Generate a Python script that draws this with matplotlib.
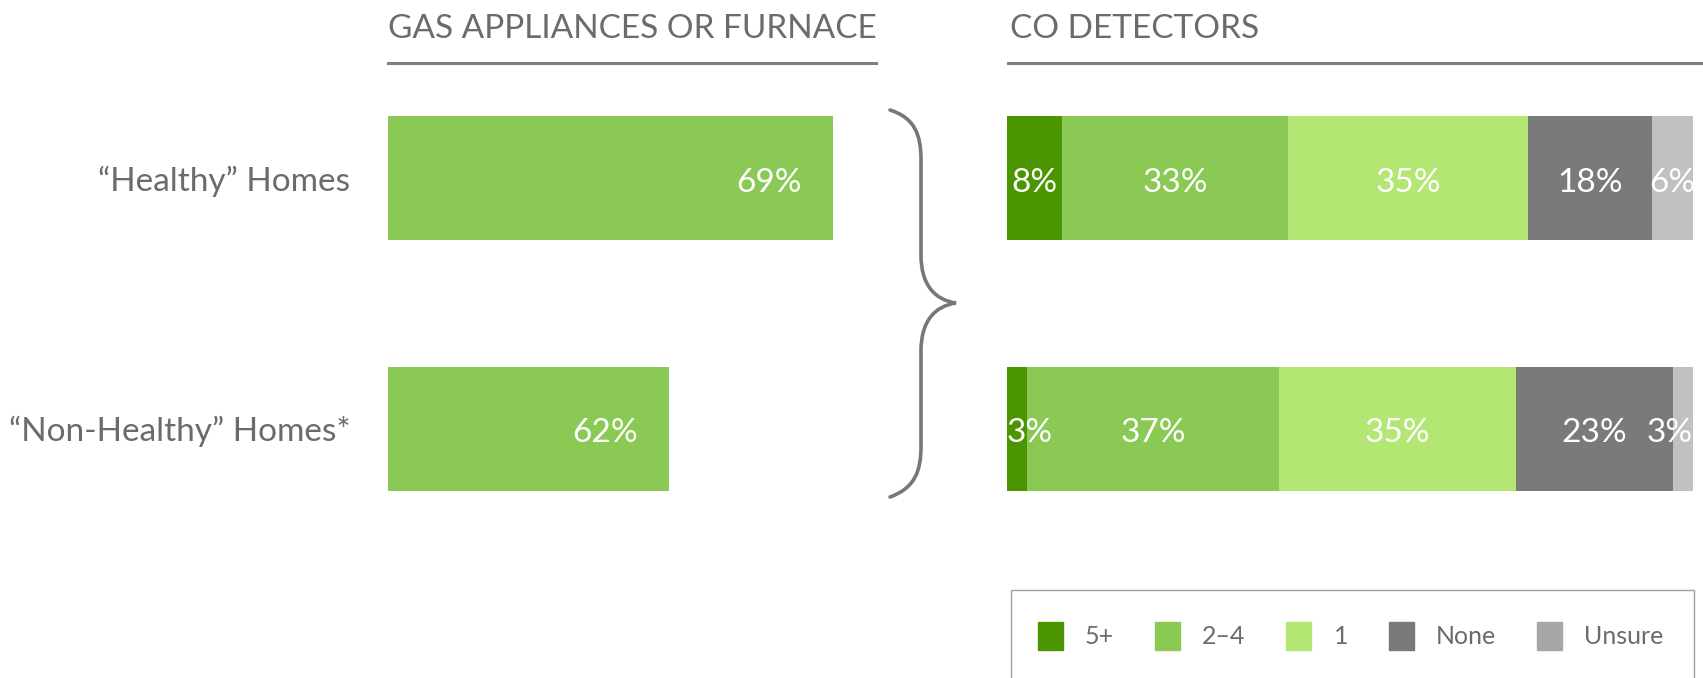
import matplotlib.pyplot as plt
import numpy as np
from matplotlib.patches import Patch, Rectangle, PathPatch
from matplotlib.path import Path

plt.rcParams['font.family'] = ['Lato', 'DejaVu Sans']

# data
rows = ["\u201cHealthy\u201d Homes", "\u201cNon-Healthy\u201d Homes*"]
gas = [69, 62]
co_cats = ["5+", "2\u20134", "1", "None", "Unsure"]
co_vals = np.array([[8, 33, 35, 18, 6],
                    [3, 37, 35, 23, 3]])
co_colors = ["#4b9600", "#8bc955", "#b3e673", "#7a7a7a", "#c1c1c1"]
leg_colors = ["#4b9600", "#8bc955", "#b3e673", "#7a7a7a", "#a6a6a6"]

W, H = 1703, 678
fig = plt.figure(figsize=(W / 100, H / 100), dpi=100)
txt = "#6b6b6b"
fw = "normal"
fs = 24
dy = 0.018  # nudge white labels down to look centred

def px_axes(x0, y0, x1, y1):
    return fig.add_axes([x0 / W, 1 - y1 / H, (x1 - x0) / W, (y1 - y0) / H])

ypos = np.arange(len(rows))
bh = 0.496
ylim = (1 + bh / 2, -bh / 2)

# left panel - gas appliances
axl = px_axes(388, 116, 876, 491)
axl.barh(ypos, gas, height=bh, color="#8bc955")
axl.set_xlim(50, 70.84)
axl.set_ylim(*ylim)
for y, v in zip(ypos, gas):
    axl.text(v - 2.75, y + dy, f"{v}%", ha="center", va="center", color="white",
             fontsize=fs, fontweight=fw)
axl.set_yticks(ypos)
axl.set_yticklabels(rows, fontsize=fs, color=txt, fontweight=fw)
axl.tick_params(axis="y", length=0, pad=27)
axl.set_xticks([])
for s in axl.spines.values():
    s.set_visible(False)

# right panel - CO detectors (each row scaled to full width)
axr = px_axes(1007, 116, 1693, 491)
shares = co_vals / co_vals.sum(axis=1, keepdims=True) * 100
left = np.zeros(len(rows))
for j, cat in enumerate(co_cats):
    w = shares[:, j]
    axr.barh(ypos, w, left=left, height=bh, color=co_colors[j])
    for i in range(len(rows)):
        c = left[i] + w[i] / 2
        ha = "center"
        if w[i] < 5 and j == 0:
            c, ha = left[i], "left"
        elif w[i] < 5 and j == len(co_cats) - 1:
            c, ha = 100, "right"
        axr.text(c, ypos[i] + dy, f"{co_vals[i, j]}%", ha=ha, va="center",
                 color="white", fontsize=fs, fontweight=fw)
    left += w
axr.set_xlim(0, 100)
axr.set_ylim(*ylim)
axr.axis("off")

# overlay for titles, rules, brace and legend frame
ov = fig.add_axes([0, 0, 1, 1], zorder=-1)
ov.set_xlim(0, W)
ov.set_ylim(H, 0)
ov.axis("off")
ov.text(388, 29, "GAS APPLIANCES OR FURNACE", fontsize=fs, color=txt,
        va="center", ha="left", fontweight=fw)
ov.text(1010, 29, "CO DETECTORS", fontsize=fs, color=txt,
        va="center", ha="left", fontweight=fw)
ov.plot([388, 876], [63, 63], color="#808080", lw=2.2)
ov.plot([1008, 1701], [63, 63], color="#808080", lw=2.2)

verts = [(890, 110), (915, 118), (921, 135), (921, 160),
         (921, 255),
         (921, 285), (935, 300), (956, 303),
         (935, 306), (921, 321), (921, 351),
         (921, 446),
         (921, 471), (915, 488), (890, 497)]
codes = [Path.MOVETO, Path.CURVE4, Path.CURVE4, Path.CURVE4,
         Path.LINETO,
         Path.CURVE4, Path.CURVE4, Path.CURVE4,
         Path.CURVE4, Path.CURVE4, Path.CURVE4,
         Path.LINETO,
         Path.CURVE4, Path.CURVE4, Path.CURVE4]
ov.add_patch(PathPatch(Path(verts, codes), fill=False, ec="#777777", lw=2.6,
                       capstyle="round"))
ov.add_patch(Rectangle((1011, 590), 683, 120, fill=False, ec="#a0a0a0", lw=1))

handles = [Patch(color=c, label=l) for c, l in zip(leg_colors, co_cats)]
fig.legend(handles=handles, ncol=5, frameon=False, loc="center left",
           bbox_to_anchor=(1015 / W, 1 - 636 / H),
           handlelength=1.0, handleheight=1.3, handletextpad=0.9,
           columnspacing=1.62, labelcolor=txt, prop={"weight": fw, "size": 18})

fig.savefig("out.png", dpi=100)
